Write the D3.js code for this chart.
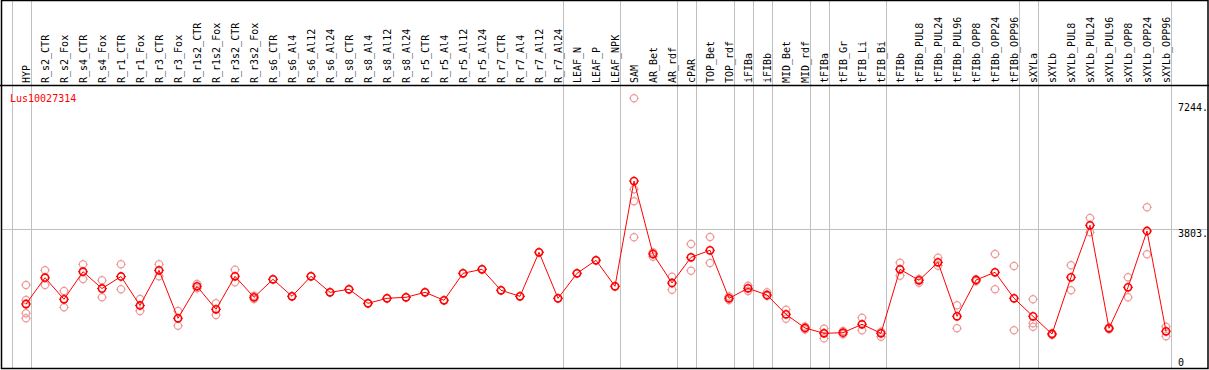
<!DOCTYPE html>
<html><head><meta charset="utf-8">
<script src="https://cdn.jsdelivr.net/npm/d3@7/dist/d3.min.js"></script>
<style>body{margin:0;background:#fff}svg{display:block}text{font-family:"DejaVu Sans Mono",monospace;font-size:10px}</style>
</head><body><svg id="c" width="1209" height="370"></svg>
<script>
const geneId = "Lus10027314";
const categories = ["HYP","R_s2_CTR","R_s2_Fox","R_s4_CTR","R_s4_Fox","R_r1_CTR","R_r1_Fox","R_r3_CTR","R_r3_Fox","R_r1s2_CTR","R_r1s2_Fox","R_r3s2_CTR","R_r3s2_Fox","R_s6_CTR","R_s6_Al4","R_s6_Al12","R_s6_Al24","R_s8_CTR","R_s8_Al4","R_s8_Al12","R_s8_Al24","R_r5_CTR","R_r5_Al4","R_r5_Al12","R_r5_Al24","R_r7_CTR","R_r7_Al4","R_r7_Al12","R_r7_Al24","LEAF_N","LEAF_P","LEAF_NPK","SAM","AR_Bet","AR_rdf","cPAR","TOP_Bet","TOP_rdf","iFIBa","iFIBb","MID_Bet","MID_rdf","tFIBa","tFIB_Gr","tFIB_Li","tFIB_Bi","tFIBb","tFIBb_PUL8","tFIBb_PUL24","tFIBb_PUL96","tFIBb_OPP8","tFIBb_OPP24","tFIBb_OPP96","sXYLa","sXYLb","sXYLb_PUL8","sXYLb_PUL24","sXYLb_PUL96","sXYLb_OPP8","sXYLb_OPP24","sXYLb_OPP96"];
const means = [1728,2451,1858,2616,2154,2484,1687,2655,1336,2215,1583,2490,1913,2407,1940,2490,2050,2132,1748,1885,1913,2050,1830,2572,2682,2105,1940,3149,1885,2572,2929,2215,5108,3102,2306,3012,3204,1885,2160,1976,1445,1069,923,940,1171,923,2682,2380,2874,1390,2388,2600,1885,1390,904,2462,3891,1061,2187,3735,978];
const replicates = [
 [2251,1838,1473,1336],[2655,2251],[2086,1638],[2819,2415],[2380,1913],[2819,2132],[1866,1536],[2819,2490],[1536,1132],[2278,2160],
 [1748,1426],[2671,2325],[1957,1866],[2407],[1940],[2490],[2050],[2132],[1748],[1885],
 [1913],[2050],[1830],[2572],[2682],[2105],[1940],[3149],[1885],[2572],
 [2929],[2215],[7381,4880,4551,3561],[3149,3028],[2479,2121],[3377,2644],[3570,2855],[1935,1838],[2231,2086],[2050,1948],
 [1572,1325],[1110,1028],[1050,934,786],[987,896],[1352,1006],[967,830],[2863,2506],[2415,2314],[3001,2781],[1693,1061],
 [2407,2352],[3102,2132],[2773,1006],[1858,1198,1105],[923,877],[2792,2105],[4092,3699],[1088,1033],[2462,1913],[4386,3094],
 [1105,841]
];
const groupEnds = ["HYP","R_r7_Al24","LEAF_NPK","AR_rdf","cPAR","TOP_rdf","iFIBa","iFIBb","MID_rdf","tFIBa","tFIB_Bi","tFIBb_OPP96","sXYLa","sXYLb_OPP96"];
const yTicks = [7244,3803,0];
const yTickLabels = ["7244.","3803.","0"];

const svg = d3.select("#c");
const W = 1209, H = 370, headerY = 85.5, bottomY = 368.5;
const x = d3.scaleBand().domain(categories).range([11.5, 1170.5]).padding(0);
const px = c => x(c) + 14.5;
const y = d3.scaleLinear().domain([0, 7244]).range([366.9, 103.3]);
const grey = "#c0c0c0";

svg.append("line").attr("x1",1.5).attr("x2",1208).attr("y1",Math.round(y(3803))+0.5).attr("y2",Math.round(y(3803))+0.5).attr("stroke",grey);
const vx = [x(categories[0])].concat(groupEnds.map(g => x(g) + x.bandwidth()));
svg.selectAll("line.v").data(vx).enter().append("line").attr("class","v")
  .attr("x1",d=>Math.round(d)+0.5).attr("x2",d=>Math.round(d)+0.5).attr("y1",0).attr("y2",bottomY).attr("stroke",grey);

svg.selectAll("text.cat").data(categories).enter().append("text").attr("class","cat")
  .attr("transform",d=>`translate(${px(d)+4},83) rotate(-90)`).text(d=>d).attr("fill","#000");

svg.append("line").attr("x1",0).attr("x2",W).attr("y1",headerY).attr("y2",headerY).attr("stroke","#000").attr("stroke-width",1.5);
svg.append("rect").attr("x",1.5).attr("y",0.5).attr("width",1206.5).attr("height",bottomY-0.5).attr("fill","none").attr("stroke","#000").attr("stroke-width",1.5);

svg.selectAll("text.yl").data(yTicks).enter().append("text").attr("class","yl")
  .attr("x",1178).attr("y",(d,i)=> d===0 ? 366 : y(d)+8).text((d,i)=>yTickLabels[i]).attr("fill","#000");

svg.append("text").attr("x",10).attr("y",101.5).attr("fill","#ff0000").text(geneId);

function marker(g, cx, cy, color, sw){
  g.append("circle").attr("cx",cx).attr("cy",cy).attr("r",3.6).attr("fill","none").attr("stroke",color).attr("stroke-width",sw);
  g.append("path").attr("d",`M${cx-4.9},${cy}h1M${cx+3.9},${cy}h1M${cx},${cy-4.9}v1M${cx},${cy+3.9}v1`).attr("stroke",color).attr("stroke-width",1);
}
const repG = svg.append("g");
categories.forEach((c,i)=>replicates[i].forEach(v=>marker(repG, px(c), y(v), "#ee9a9a", 1.2)));

const line = d3.line().x((d,i)=>px(categories[i])).y(d=>y(d));
svg.append("path").datum(means).attr("d",line).attr("fill","none").attr("stroke","#ff0000").attr("stroke-width",1);

const meanG = svg.append("g");
categories.forEach((c,i)=>marker(meanG, px(c), y(means[i]), "#ff0000", 1.6));
</script></body></html>
